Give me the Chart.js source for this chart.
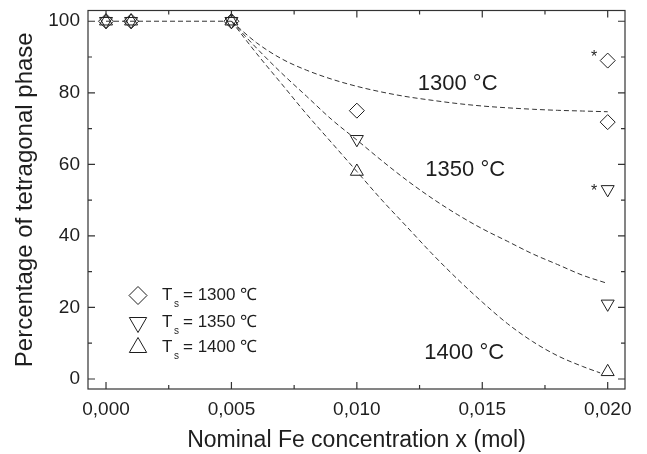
<!DOCTYPE html>
<html>
<head>
<meta charset="utf-8">
<script src="https://cdn.jsdelivr.net/npm/chart.js@4/dist/chart.umd.min.js"></script>
<style>
html,body{margin:0;padding:0;background:#fff;}
#wrap{width:647px;height:454px;position:relative;}
</style>
</head>
<body>
<div id="wrap"><canvas id="c" width="647" height="454"></canvas></div>
<script>
// ---- data ----
const xPoints = [0, 0.001, 0.005, 0.010, 0.020];
const ts1300 = [100, 100, 100, 75, 71.8];
const ts1350 = [100, 100, 100, 67, 21];
const ts1400 = [100, 100, 100, 58, 2];
const starX = [0.020, 0.020];
const starY = [89, 53];             // 1300 and 1350 points marked with *
const flatX = [0, 0.005];
const flatY = [100, 100];
const curveX = [0.005,0.006,0.007,0.008,0.009,0.010,0.011,0.012,0.013,0.014,0.015,0.016,0.017,0.018,0.019,0.020];
const fit1300 = [100,94,89.5,86.3,83.8,81.8,80.2,78.9,77.9,77,76.3,75.8,75.4,75.1,74.9,74.7];
const fit1350 = [100,92.5,85.5,79,72.5,66.8,61,55.5,50.5,46,42,38.5,35,32,29,26.7];
const curveX1400 = [0.005,0.006,0.007,0.008,0.009,0.010,0.011,0.012,0.013,0.014,0.015,0.016,0.017,0.018,0.019,0.0197];
const fit1400 = [100,91,82.5,74,66,58,50,42.5,35,28,21.5,15.5,10.5,6.5,3.5,1.7];
const xMajor = [0, 0.005, 0.010, 0.015, 0.020];
const xMinor = [0.0025, 0.0075, 0.0125, 0.0175];
const yMajor = [0, 20, 40, 60, 80, 100];
const yMinor = [10, 30, 50, 70, 90];
const curveLabels = ['1300 °C', '1350 °C', '1400 °C'];
const curveLabelX = [0.01402, 0.01432, 0.01428];
const curveLabelY = [82.4, 58.5, 7.2];
const legendLabels = ['1300 ℃', '1350 ℃', '1400 ℃'];

const FONT = '"Liberation Sans", Arial, Helvetica, sans-serif';
const INK = '#1e1e1e';

const pts = (xs, ys) => xs.map((x, i) => ({x, y: ys[i]}));

function marker(label, xs, ys, style, rot) {
  return {
    label, type: 'scatter', data: pts(xs, ys), showLine: false,
    pointStyle: style, rotation: rot, pointRadius: 7.5, pointHoverRadius: 7.5,
    pointBorderWidth: 1, borderColor: INK, backgroundColor: 'rgba(0,0,0,0)', order: 1
  };
}
function curve(label, xs, ys) {
  return {
    label, type: 'line', data: pts(xs, ys), showLine: true, pointRadius: 0,
    borderColor: '#333', borderWidth: 1, borderDash: [5, 3], tension: 0.4,
    cubicInterpolationMode: 'monotone', fill: false, order: 2
  };
}

const decor = {
  id: 'decor',
  afterDraw(chart) {
    const ctx = chart.ctx, a = chart.chartArea;
    const xs = chart.scales.x, ys = chart.scales.y;
    ctx.save();
    // frame
    ctx.strokeStyle = '#333'; ctx.lineWidth = 1.2;
    ctx.strokeRect(a.left, a.top, a.right - a.left, a.bottom - a.top);
    // ticks (inward, all four sides)
    ctx.beginPath();
    const tx = (vals, len) => vals.forEach(v => {
      const p = xs.getPixelForValue(v);
      ctx.moveTo(p, a.bottom); ctx.lineTo(p, a.bottom - len);
      ctx.moveTo(p, a.top); ctx.lineTo(p, a.top + len);
    });
    const ty = (vals, len) => vals.forEach(v => {
      const p = ys.getPixelForValue(v);
      ctx.moveTo(a.left, p); ctx.lineTo(a.left + len, p);
      ctx.moveTo(a.right, p); ctx.lineTo(a.right - len, p);
    });
    tx(xMajor, 7); tx(xMinor, 4); ty(yMajor, 7); ty(yMinor, 4);
    ctx.stroke();

    // asterisks
    ctx.fillStyle = INK;
    ctx.font = '16px ' + FONT;
    ctx.textAlign = 'center'; ctx.textBaseline = 'middle';
    const starDy = [-3, 1.8];
    starX.forEach((x, i) => {
      ctx.fillText('*', xs.getPixelForValue(x) - 13.5, ys.getPixelForValue(starY[i]) + starDy[i]);
    });
    // curve labels
    ctx.font = '22px ' + FONT;
    curveLabels.forEach((t, i) => {
      ctx.fillText(t, xs.getPixelForValue(curveLabelX[i]), ys.getPixelForValue(curveLabelY[i]));
    });

    // legend (inside plot, lower left)
    const lx = a.left + 50, rowY = [a.top + 285, a.top + 312, a.top + 337];
    const styles = ['diamond', 'down', 'up'];
    ctx.strokeStyle = INK; ctx.lineWidth = 1;
    styles.forEach((s, i) => {
      const y = rowY[i], r = 9;
      ctx.beginPath();
      if (s === 'diamond') {
        ctx.moveTo(lx - r, y); ctx.lineTo(lx, y - r); ctx.lineTo(lx + r, y); ctx.lineTo(lx, y + r);
      } else if (s === 'down') {
        const R = 10;
        ctx.moveTo(lx - R * 0.866, y - R * 0.5); ctx.lineTo(lx + R * 0.866, y - R * 0.5); ctx.lineTo(lx, y + R);
      } else {
        const R = 10;
        ctx.moveTo(lx, y - R); ctx.lineTo(lx + R * 0.866, y + R * 0.5); ctx.lineTo(lx - R * 0.866, y + R * 0.5);
      }
      ctx.closePath(); ctx.stroke();
      ctx.textAlign = 'left'; ctx.textBaseline = 'middle';
      ctx.font = '17px ' + FONT;
      ctx.fillText('T', lx + 24, y);
      ctx.font = '10px ' + FONT;
      ctx.fillText('s', lx + 36, y + 9);
      ctx.font = '17px ' + FONT;
      ctx.fillText('= ' + legendLabels[i], lx + 45, y);
    });
    ctx.restore();
  }
};

new Chart(document.getElementById('c'), {
  type: 'scatter',
  data: {
    datasets: [
      marker('Ts = 1300 ℃', xPoints, ts1300, 'rectRot', 0),
      marker('Ts = 1350 ℃', xPoints, ts1350, 'triangle', 180),
      marker('Ts = 1400 ℃', xPoints, ts1400, 'triangle', 0),
      marker('1300 ℃ *', [starX[0]], [starY[0]], 'rectRot', 0),
      marker('1350 ℃ *', [starX[1]], [starY[1]], 'triangle', 180),
      curve('flat', flatX, flatY),
      curve('fit 1300', curveX, fit1300),
      curve('fit 1350', curveX, fit1350),
      curve('fit 1400', curveX1400, fit1400)
    ]
  },
  options: {
    responsive: false, animation: false, devicePixelRatio: 1,
    layout: { padding: { top: 10.5, right: 22, left: 0, bottom: 0 } },
    plugins: { legend: { display: false }, tooltip: { enabled: false } },
    scales: {
      x: {
        type: 'linear', min: -0.000718, max: 0.02069,
        grid: { display: false, drawTicks: false }, border: { display: false },
        afterBuildTicks: s => { s.ticks = xMajor.map(v => ({value: v})); },
        afterFit: s => { s.height = 65; s.paddingLeft = 0; s.paddingRight = 0; },
        ticks: {
          padding: 9, color: INK, font: { family: FONT, size: 19 },
          callback: v => v.toFixed(3).replace('.', ',')
        },
        title: { display: true, text: 'Nominal Fe concentration x (mol)', color: INK,
                 font: { family: FONT, size: 23 }, padding: { top: 4, bottom: 0 } }
      },
      y: {
        type: 'linear', min: -2.8, max: 103.0,
        grid: { display: false, drawTicks: false }, border: { display: false },
        afterBuildTicks: s => { s.ticks = yMajor.map(v => ({value: v})); },
        afterFit: s => { s.width = 88; s.paddingTop = 0; s.paddingBottom = 0; },
        ticks: { padding: 8, color: INK, font: { family: FONT, size: 19 } },
        title: { display: true, text: 'Percentage of tetragonal phase', color: INK,
                 font: { family: FONT, size: 24 }, padding: { top: 10.5, bottom: 0 } }
      }
    }
  },
  plugins: [decor]
});
</script>
</body>
</html>
